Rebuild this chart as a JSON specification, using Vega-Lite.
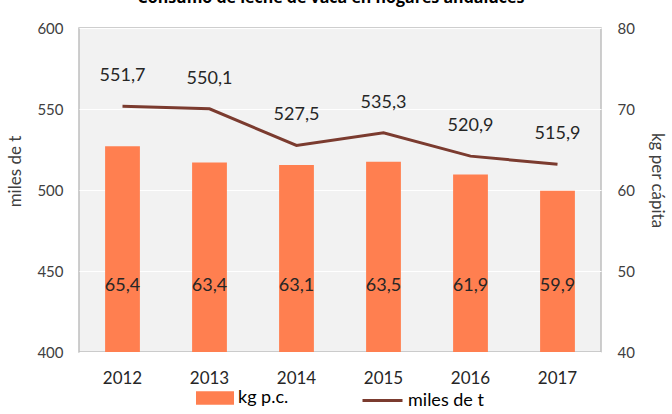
{
  "$schema": "https://vega.github.io/schema/vega-lite/v6.json",
  "width": 522,
  "height": 324,
  "autosize": {"type": "none"},
  "padding": {"left": 79, "right": 71, "top": 28, "bottom": 62},
  "title": {"text": "Consumo de leche de vaca en hogares andaluces", "fontSize": 16, "fontWeight": "bold", "font": "Open Sans", "color": "#000000", "anchor": "middle", "offset": 15, "dx": -9},
  "config": {
    "locale": {"number": {"decimal": ",", "thousands": ".", "grouping": [3], "currency": ["", " €"]}},
    "view": {"fill": "#f2f2f2", "stroke": "#bfbfbf", "strokeWidth": 1.5},
    "axis": {"labelFont": "Lato", "titleFont": "Lato", "labelColor": "#404040", "titleColor": "#404040", "labelFontSize": 15, "titleFontSize": 17, "titleFontWeight": "normal", "domain": false, "ticks": false},
    "legend": {"labelFont": "Lato", "labelFontSize": 18, "labelColor": "#000000", "orient": "bottom", "direction": "horizontal", "title": null, "offset": -7, "layout": {"bottom": {"anchor": "middle", "direction": "horizontal", "margin": 72}}}
  },
  "data": {"values": [
    {"year": "2012", "kg": 65.4, "miles": 551.7},
    {"year": "2013", "kg": 63.4, "miles": 550.1},
    {"year": "2014", "kg": 63.1, "miles": 527.5},
    {"year": "2015", "kg": 63.5, "miles": 535.3},
    {"year": "2016", "kg": 61.9, "miles": 520.9},
    {"year": "2017", "kg": 59.9, "miles": 515.9}
  ]},
  "encoding": {
    "x": {"field": "year", "type": "ordinal", "scale": {"paddingInner": 0.6, "paddingOuter": 0.3}, "axis": {"title": null, "labelAngle": 0, "labelPadding": 18, "labelFontSize": 17, "labelColor": "#262626"}}
  },
  "layer": [
    {
      "layer": [
        {
          "mark": {"type": "bar", "clip": true, "color": "#ff7f50"},
          "encoding": {
            "y": {"field": "kg", "type": "quantitative", "scale": {"domain": [40, 80], "nice": false, "zero": false}, "axis": {"orient": "right", "title": "kg per cápita", "values": [40, 50, 60, 70, 80], "format": "d", "grid": false, "labelPadding": 16, "titlePadding": 13, "titleY": 152}},
            "fill": {"datum": "kg p.c.", "type": "nominal", "scale": {"range": ["#ff7f50"]}, "legend": {"symbolType": "M-1,-0.35L1,-0.35L1,0.35L-1,0.35Z", "symbolSize": 1444, "symbolStrokeWidth": 0}}
          }
        },
        {
          "mark": {"type": "text", "font": "Lato", "fontSize": 18, "color": "#262626"},
          "encoding": {
            "y": {"datum": 48.2},
            "text": {"field": "kg", "type": "quantitative", "format": ".1f"}
          }
        }
      ]
    },
    {
      "layer": [
        {
          "mark": {"type": "line", "strokeWidth": 3},
          "encoding": {
            "y": {"field": "miles", "type": "quantitative", "scale": {"domain": [400, 600], "nice": false, "zero": false}, "axis": {"orient": "left", "title": "miles de t", "values": [400, 450, 500, 550, 600], "format": "d", "grid": true, "gridColor": "#ffffff", "gridWidth": 1.2, "labelPadding": 16, "titlePadding": 12, "titleY": 143}},
            "stroke": {"datum": "miles de t", "type": "nominal", "scale": {"range": ["#7b3b2f"]}, "legend": {"symbolType": "stroke", "symbolSize": 1600, "symbolStrokeWidth": 3}}
          }
        },
        {
          "mark": {"type": "text", "font": "Lato", "fontSize": 18, "color": "#262626", "dy": -30},
          "encoding": {
            "y": {"field": "miles", "type": "quantitative"},
            "text": {"field": "miles", "type": "quantitative", "format": ".1f"}
          }
        }
      ]
    }
  ],
  "resolve": {"scale": {"y": "independent", "fill": "independent", "stroke": "independent"}}
}
